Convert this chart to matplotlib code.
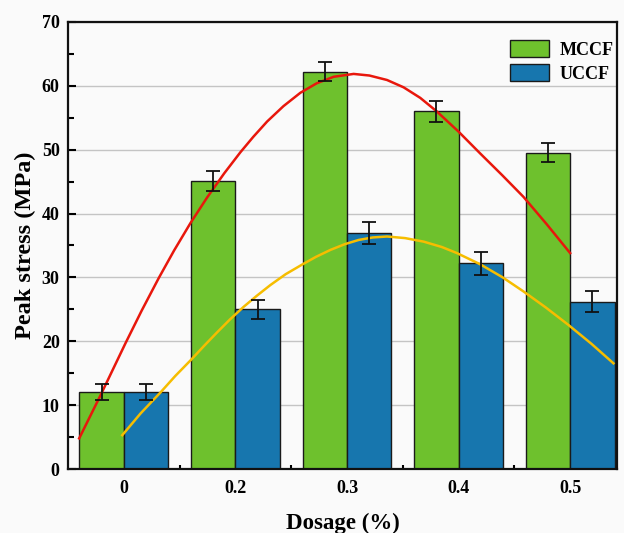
import matplotlib
matplotlib.use("Agg")
import matplotlib.pyplot as plt
import numpy as np
from matplotlib.ticker import MultipleLocator, FixedLocator
from matplotlib.patches import Patch

categories = ["0", "0.2", "0.3", "0.4", "0.5"]
mccf = [12.1, 45.1, 62.2, 56.0, 49.5]
mccf_err = [1.25, 1.5, 1.5, 1.6, 1.5]
uccf = [12.1, 25.0, 37.0, 32.2, 26.2]
uccf_err = [1.25, 1.5, 1.7, 1.8, 1.6]

# fitted curves (x in category-index units)
red_x = [-0.40, -0.21, 0.015, 0.16, 0.313, 0.45, 0.597, 0.746, 0.9, 1.045, 1.16, 1.284, 1.43,
         1.582, 1.73, 1.88, 2.059, 2.2, 2.358, 2.507, 2.656, 2.806, 3.0, 3.193, 3.39, 3.581, 3.79, 3.999]
red_y = [4.8, 11.5, 19.7, 24.8, 29.9, 34.2, 38.5, 42.5, 46.3, 49.6, 52.0, 54.4, 56.8,
         58.9, 60.4, 61.4, 61.85, 61.6, 60.9, 59.75, 58.1, 55.95, 52.8, 49.4, 46.0, 42.6, 38.3, 33.8]
yel_x = [-0.014, 0.15, 0.329, 0.46, 0.597, 0.72, 0.836, 0.95, 1.074, 1.19, 1.313, 1.45, 1.597,
         1.72, 1.851, 1.98, 2.104, 2.23, 2.358, 2.52, 2.686, 2.85, 2.985, 3.193, 3.39, 3.581, 3.78, 3.984, 4.19, 4.387]
yel_y = [5.3, 8.7, 12.0, 14.55, 17.0, 19.3, 21.4, 23.4, 25.4, 27.1, 28.8, 30.5, 32.0,
         33.2, 34.3, 35.2, 35.86, 36.25, 36.4, 36.15, 35.6, 34.75, 33.8, 32.05, 30.05, 27.8, 25.3, 22.55, 19.6, 16.55]

plt.rcParams['font.family'] = ['Liberation Serif', 'DejaVu Serif']
plt.rcParams['font.weight'] = 'bold'

fig = plt.figure(figsize=(6.24, 5.33), dpi=100, facecolor='#fafafa')
ax = fig.add_axes([0.109, 0.120, 0.880, 0.839])
ax.set_facecolor('#fafafa')

x = np.arange(len(categories))
w = 0.398
green = '#6ec12d'
blue = '#1776ae'

ax.bar(x - w/2, mccf, w, color=green, edgecolor='#1a1a1a', linewidth=1.0, zorder=2)
ax.bar(x + w/2, uccf, w, color=blue, edgecolor='#1a1a1a', linewidth=1.0, zorder=2)

ax.plot(red_x, red_y, color='#e8170c', lw=1.8, zorder=3, solid_joinstyle='round')
ax.plot(yel_x, yel_y, color='#f6bd00', lw=1.8, zorder=3, solid_joinstyle='round')

ax.errorbar(x - w/2, mccf, yerr=mccf_err, fmt='none', ecolor='#111111', elinewidth=1.3, capsize=4.7, capthick=1.3, zorder=4)
ax.errorbar(x + w/2, uccf, yerr=uccf_err, fmt='none', ecolor='#111111', elinewidth=1.3, capsize=4.7, capthick=1.3, zorder=4)

ax.set_xlim(-0.50, 4.42)
ax.set_ylim(0, 70)
ax.yaxis.set_major_locator(MultipleLocator(10))
ax.yaxis.set_minor_locator(MultipleLocator(5))
ax.set_xticks(x)
ax.set_xticklabels(categories)
ax.xaxis.set_minor_locator(FixedLocator([0.5, 1.5, 2.5, 3.5]))
ax.grid(axis='y', which='major', color='#c4c4c4', lw=1.0, zorder=0)
ax.set_axisbelow(True)

for s in ax.spines.values():
    s.set_linewidth(1.6)
    s.set_color('#111111')

ax.tick_params(axis='y', which='major', direction='in', length=6, width=1.5, labelsize=13, pad=6)
ax.tick_params(axis='y', which='minor', direction='in', length=4, width=1.5)
ax.tick_params(axis='x', which='major', direction='in', length=4, width=1.5, labelsize=13, pad=8)
ax.tick_params(axis='x', which='minor', direction='in', length=3, width=1.5)

ax.set_ylabel('Peak stress (MPa)', fontsize=17.5, fontweight='bold', labelpad=4)
ax.set_xlabel('Dosage (%)', fontsize=16.5, fontweight='bold', labelpad=11)

handles = [Patch(facecolor=green, edgecolor='#1a1a1a', lw=1.0, label='MCCF'),
           Patch(facecolor=blue, edgecolor='#1a1a1a', lw=1.0, label='UCCF')]
ax.legend(handles=handles, loc='upper right', frameon=False, fontsize=13,
          handlelength=2.15, handleheight=1.1, handletextpad=0.55, labelspacing=0.3,
          borderaxespad=0, borderpad=0.4, bbox_to_anchor=(1.006, 0.976))

fig.savefig('out.png', dpi=100, facecolor=fig.get_facecolor())
